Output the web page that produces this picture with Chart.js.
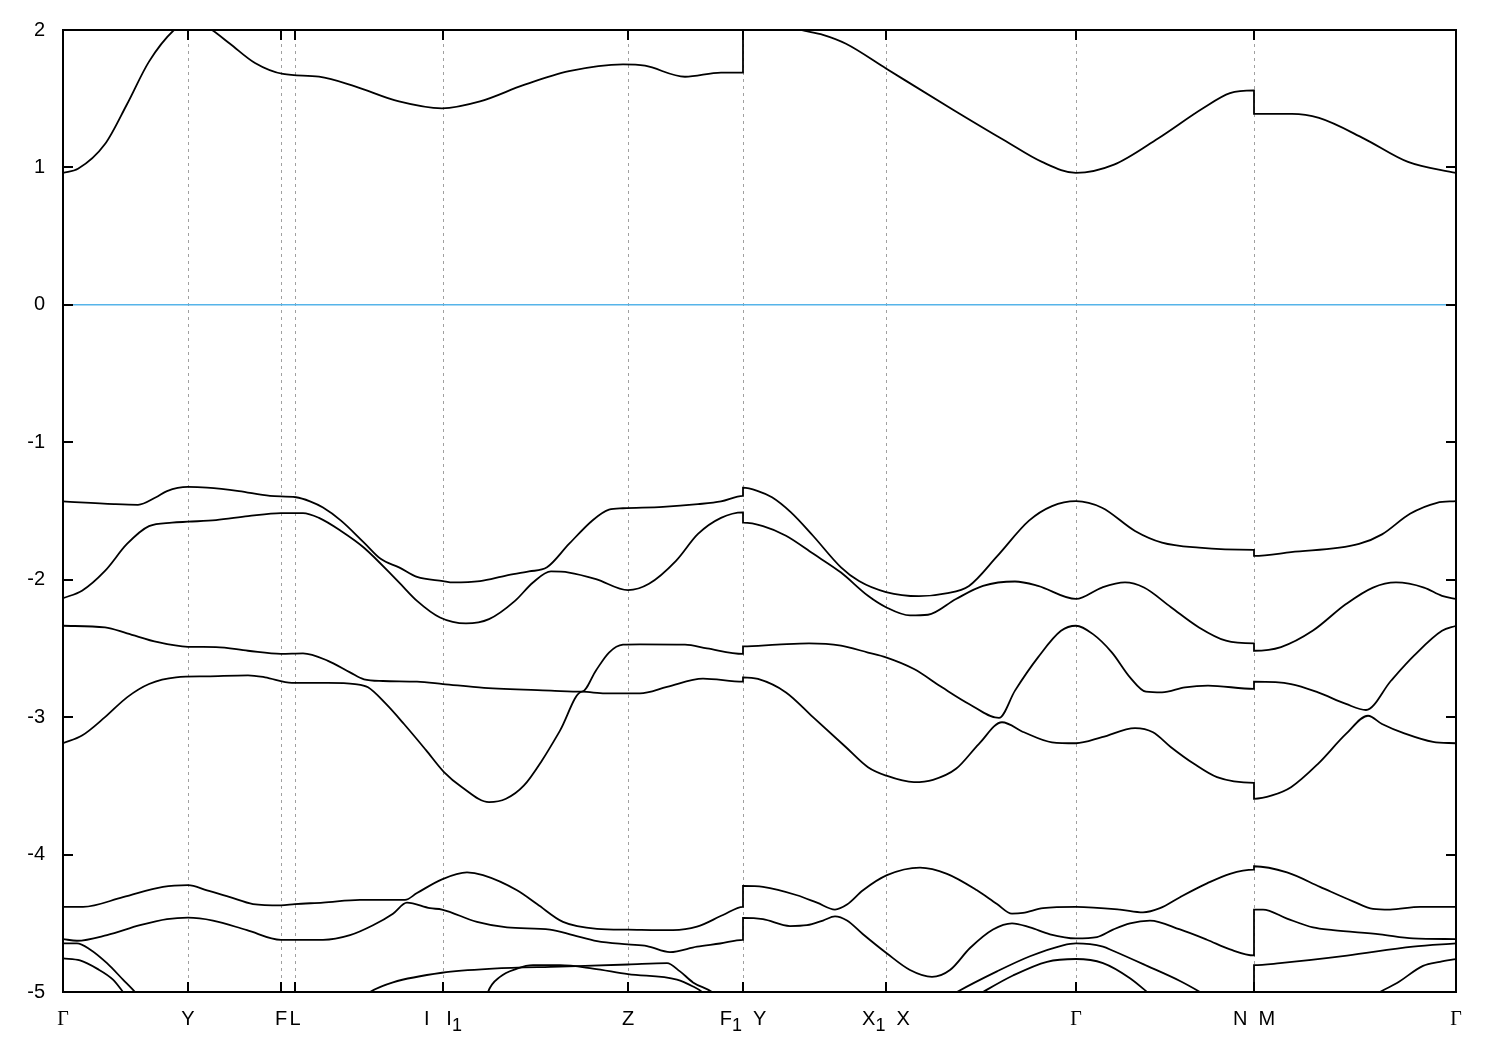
<!DOCTYPE html>
<html>
<head>
<meta charset="utf-8">
<title>Band structure</title>
<script src="https://cdn.jsdelivr.net/npm/chart.js@4.4.1/dist/chart.umd.min.js"></script>
<style>
    body { margin: 0; background: #fff; }
    #wrap { width: 1500px; height: 1050px; }
</style>
</head>
<body>
<div id="wrap"><canvas id="bandChart" width="1500" height="1050"></canvas></div>
<script>
// high-symmetry points along the k-path ("_1" = subscript 1)
const kTicks = [0, 1.25, 2.18, 2.32, 3.80, 5.65, 6.80, 8.23, 10.13, 11.91, 13.93];
const kLabels = ['Γ', 'Y', 'F', 'L', 'I   I_1', 'Z', 'F_1  Y', 'X_1  X', 'Γ', 'N  M', 'Γ'];
const energyTicks = [-5, -4, -3, -2, -1, 0, 1, 2];
const fermiLevel = [[0, 0], [13.93, 0]];

// bands as [k, E] pairs
const band1 = [[0, 0.96], [0.15, 0.99], [0.42, 1.17], [0.64, 1.46], [0.86, 1.77], [1.11, 2.0], [1.25, 2.06], [1.37, 2.05],
    [1.49, 2.0], [1.67, 1.9], [1.92, 1.76], [2.20, 1.68], [2.56, 1.66], [2.92, 1.59], [3.36, 1.48], [3.79, 1.43],
    [4.17, 1.48], [4.61, 1.60], [5.06, 1.70], [5.60, 1.75], [5.82, 1.74], [6.22, 1.66], [6.58, 1.69], [6.80, 1.69],
    [6.80, 2.12], [7.07, 2.07], [7.38, 2.0], [7.60, 1.965], [7.83, 1.90], [8.23, 1.72], [8.90, 1.42], [9.43, 1.19],
    [9.79, 1.04], [10.13, 0.96], [10.51, 1.02], [10.95, 1.21], [11.40, 1.43], [11.67, 1.54], [11.91, 1.56],
    [11.91, 1.39], [12.29, 1.39], [12.56, 1.36], [13.01, 1.21], [13.45, 1.04], [13.93, 0.96]];

const band2 = [[0, -1.43], [0.51, -1.45], [0.75, -1.455], [0.93, -1.40], [1.04, -1.355], [1.25, -1.325], [1.44, -1.33],
    [1.76, -1.355], [2.07, -1.39], [2.33, -1.40], [2.47, -1.43], [2.60, -1.475], [2.78, -1.57], [3.01, -1.73],
    [3.18, -1.85], [3.36, -1.91], [3.54, -1.98], [3.80, -2.01], [3.90, -2.02], [4.17, -2.01], [4.43, -1.97],
    [4.66, -1.94], [4.84, -1.91], [5.06, -1.74], [5.30, -1.565], [5.46, -1.49], [5.60, -1.48], [6.00, -1.47],
    [6.35, -1.45], [6.58, -1.43], [6.80, -1.39],
    [6.80, -1.33], [6.95, -1.355], [7.09, -1.40], [7.28, -1.51], [7.50, -1.68], [7.78, -1.91], [7.96, -2.01],
    [8.23, -2.09], [8.56, -2.12], [8.83, -2.10], [9.06, -2.045], [9.34, -1.83], [9.66, -1.57], [9.89, -1.464],
    [10.13, -1.428], [10.39, -1.476], [10.72, -1.645], [10.99, -1.73], [11.36, -1.767], [11.91, -1.783],
    [11.91, -1.827], [12.28, -1.80], [12.96, -1.74], [13.19, -1.67], [13.47, -1.52], [13.74, -1.44], [13.93, -1.428]];

const band3 = [[0, -2.134], [0.19, -2.08], [0.42, -1.936], [0.64, -1.74], [0.86, -1.61], [1.09, -1.585], [1.25, -1.578],
    [1.53, -1.566], [1.85, -1.537], [2.18, -1.515], [2.40, -1.515], [2.56, -1.55], [2.78, -1.645], [3.01, -1.767],
    [3.36, -2.02], [3.54, -2.154], [3.77, -2.275], [4.03, -2.318], [4.26, -2.287], [4.52, -2.154], [4.70, -2.02],
    [4.88, -1.94], [5.06, -1.948], [5.33, -1.996], [5.65, -2.076], [5.86, -2.03], [6.13, -1.863], [6.35, -1.667],
    [6.58, -1.55], [6.80, -1.51],
    [6.80, -1.585], [7.00, -1.61], [7.23, -1.68], [7.50, -1.81], [7.78, -1.948], [8.05, -2.117], [8.23, -2.20],
    [8.47, -2.26], [8.65, -2.255], [8.93, -2.14], [9.20, -2.045], [9.52, -2.013], [9.75, -2.045], [10.13, -2.14],
    [10.39, -2.057], [10.62, -2.02], [10.81, -2.057], [11.08, -2.20], [11.36, -2.347], [11.63, -2.444], [11.91, -2.463],
    [11.91, -2.517], [12.18, -2.49], [12.50, -2.37], [12.83, -2.177], [13.10, -2.057], [13.33, -2.02], [13.61, -2.057],
    [13.79, -2.117], [13.93, -2.14]];

const band4 = [[0, -2.335], [0.42, -2.347], [0.64, -2.39], [0.95, -2.455], [1.25, -2.488], [1.53, -2.49], [1.85, -2.517],
    [2.18, -2.54], [2.40, -2.536], [2.65, -2.59], [2.87, -2.674], [3.01, -2.725], [3.20, -2.737], [3.54, -2.742],
    [3.80, -2.759], [4.21, -2.787], [4.88, -2.807], [5.19, -2.815], [5.33, -2.66], [5.46, -2.53], [5.60, -2.473],
    [5.77, -2.47], [6.22, -2.473], [6.44, -2.50], [6.80, -2.54],
    [6.80, -2.485], [7.14, -2.473], [7.46, -2.463], [7.78, -2.48], [8.05, -2.53], [8.23, -2.565], [8.51, -2.65],
    [8.79, -2.783], [9.06, -2.904], [9.36, -3.006], [9.52, -2.807], [9.75, -2.565], [9.98, -2.372], [10.13, -2.335],
    [10.30, -2.396], [10.49, -2.53], [10.67, -2.71], [10.83, -2.815], [10.99, -2.82], [11.22, -2.783], [11.45, -2.77],
    [11.91, -2.795],
    [11.91, -2.742], [12.28, -2.759], [12.55, -2.82], [12.83, -2.904], [13.03, -2.948], [13.28, -2.735], [13.51, -2.553],
    [13.79, -2.372], [13.93, -2.335]];

const band5 = [[0, -3.19], [0.19, -3.134], [0.42, -3.0], [0.64, -2.856], [0.86, -2.759], [1.13, -2.71], [1.44, -2.703],
    [1.85, -2.696], [2.02, -2.71], [2.29, -2.75], [2.65, -2.75], [2.92, -2.759], [3.05, -2.783], [3.23, -2.904],
    [3.41, -3.05], [3.63, -3.24], [3.81, -3.40], [3.99, -3.51], [4.26, -3.618], [4.43, -3.594], [4.61, -3.497],
    [4.79, -3.315], [4.97, -3.098], [5.19, -2.815], [5.42, -2.827], [5.77, -2.827], [6.04, -2.78], [6.40, -2.72],
    [6.80, -2.742],
    [6.80, -2.71], [6.95, -2.722], [7.23, -2.82], [7.50, -3.0], [7.83, -3.219], [8.05, -3.364], [8.23, -3.425],
    [8.51, -3.473], [8.70, -3.456], [8.93, -3.376], [9.16, -3.194], [9.39, -3.037], [9.61, -3.11], [9.89, -3.183],
    [10.13, -3.19], [10.39, -3.146], [10.72, -3.08], [10.90, -3.11], [11.08, -3.219], [11.31, -3.34], [11.54, -3.437],
    [11.91, -3.478],
    [11.91, -3.594], [12.09, -3.57], [12.28, -3.51], [12.55, -3.34], [12.83, -3.122], [13.05, -2.99], [13.19, -3.05],
    [13.42, -3.12], [13.70, -3.18], [13.93, -3.19]];

const band6 = [[0, -4.38], [0.20, -4.38], [0.60, -4.31], [1.00, -4.235], [1.25, -4.223], [1.44, -4.26], [1.67, -4.31],
    [1.90, -4.36], [2.18, -4.37], [2.32, -4.36], [2.60, -4.35], [2.97, -4.33], [3.24, -4.33], [3.42, -4.33],
    [3.54, -4.28], [3.79, -4.18], [4.04, -4.13], [4.20, -4.15], [4.54, -4.26], [4.74, -4.36], [5.00, -4.49],
    [5.34, -4.54], [5.65, -4.546], [6.10, -4.55], [6.34, -4.525], [6.60, -4.44], [6.80, -4.38],
    [6.80, -4.228], [7.00, -4.235], [7.34, -4.296], [7.54, -4.35], [7.72, -4.40], [7.84, -4.364], [8.00, -4.26],
    [8.24, -4.15], [8.57, -4.095], [8.84, -4.14], [9.14, -4.26], [9.34, -4.36], [9.49, -4.43], [9.60, -4.425],
    [9.80, -4.39], [10.13, -4.38], [10.57, -4.40], [10.80, -4.42], [10.97, -4.39], [11.17, -4.31], [11.44, -4.21],
    [11.67, -4.14], [11.91, -4.11],
    [11.91, -4.085], [12.24, -4.13], [12.57, -4.235], [12.90, -4.34], [13.10, -4.395], [13.27, -4.40], [13.57, -4.38],
    [13.93, -4.38]];

const band7 = [[0, -4.615], [0.14, -4.627], [0.44, -4.586], [0.77, -4.514], [1.04, -4.47], [1.25, -4.459], [1.50, -4.48],
    [1.84, -4.55], [2.18, -4.62], [2.60, -4.62], [2.87, -4.586], [3.10, -4.514], [3.30, -4.43], [3.44, -4.35],
    [3.67, -4.39], [3.79, -4.40], [4.14, -4.49], [4.44, -4.53], [4.87, -4.546], [5.10, -4.586], [5.34, -4.63],
    [5.65, -4.654], [5.84, -4.666], [6.07, -4.71], [6.34, -4.67], [6.57, -4.647], [6.80, -4.62],
    [6.80, -4.46], [7.00, -4.47], [7.27, -4.52], [7.44, -4.514], [7.60, -4.48], [7.72, -4.45], [7.84, -4.48],
    [8.00, -4.58], [8.24, -4.72], [8.47, -4.84], [8.69, -4.89], [8.87, -4.84], [9.07, -4.68], [9.30, -4.545],
    [9.49, -4.50], [9.67, -4.53], [9.87, -4.58], [10.13, -4.61], [10.34, -4.60], [10.50, -4.546], [10.67, -4.50],
    [10.87, -4.48], [11.17, -4.545], [11.44, -4.62], [11.67, -4.69], [11.91, -4.734],
    [11.91, -4.40], [12.00, -4.40], [12.24, -4.466], [12.50, -4.53], [12.70, -4.55], [13.17, -4.58], [13.50, -4.61],
    [13.93, -4.615]];

const band8 = [[0, -4.646], [0.14, -4.646], [0.27, -4.69], [0.44, -4.79], [0.60, -4.91], [0.72, -5.0], [0.90, -5.15]];
const band9 = [[0, -4.755], [0.17, -4.77], [0.34, -4.83], [0.50, -4.91], [0.60, -5.0], [0.80, -5.2]];

const band10 = [[2.85, -5.12], [3.07, -5.0], [3.30, -4.93], [3.79, -4.86], [4.30, -4.83], [4.97, -4.815], [5.65, -4.80],
    [6.04, -4.79], [6.17, -4.85], [6.30, -4.93], [6.49, -5.0], [6.62, -5.08]];
const band11 = [[4.18, -5.2], [4.25, -5.0], [4.37, -4.89], [4.54, -4.83], [4.70, -4.805], [4.97, -4.805], [5.30, -4.83],
    [5.65, -4.87], [6.14, -4.91], [6.30, -4.96], [6.39, -5.0], [6.46, -5.06]];
const band12 = [[8.78, -5.07], [8.94, -5.0], [9.34, -4.85], [9.67, -4.74], [10.00, -4.66], [10.13, -4.646], [10.40, -4.67],
    [10.50, -4.70], [10.84, -4.81], [11.17, -4.92], [11.37, -5.0], [11.55, -5.08]];
const band13 = [[9.04, -5.07], [9.20, -5.0], [9.50, -4.88], [9.84, -4.78], [10.13, -4.76], [10.40, -4.79], [10.67, -4.9],
    [10.84, -5.0], [11.00, -5.1]];
const band14 = [[11.91, -5.3], [11.91, -4.805], [12.17, -4.79], [12.84, -4.735], [13.50, -4.67], [13.93, -4.646]];
const band15 = [[13.00, -5.09], [13.17, -5.0], [13.34, -4.935], [13.60, -4.81], [13.77, -4.78], [13.93, -4.76]];

const allBands = [band1, band2, band3, band4, band5, band6, band7, band8,
    band9, band10, band11, band12, band13, band14, band15];

const SANS = "'Liberation Sans', Arial, sans-serif";
const SERIF = "'Liberation Serif', 'Times New Roman', serif";
const FONT_SIZE = 20;

// split "F_1  Y" into pieces, subscripts flagged
function labelParts(label) {
    return label.split(/(_\d)/).filter(s => s !== '').map(s =>
        s[0] === '_' ? {text: s.slice(1), sub: true} : {text: s, sub: false});
}

function partFont(label, part) {
    const family = label === 'Γ' ? SERIF : SANS;
    return (part.sub ? FONT_SIZE - 2 : FONT_SIZE) + 'px ' + family;
}

// dashed k-point lines under the bands, frame, inward ticks and k labels on top
const framePlugin = {
    id: 'frame',
    beforeDatasetsDraw(chart) {
        const {ctx, chartArea: a, scales: {x}} = chart;
        ctx.save();
        ctx.strokeStyle = '#a0a0a0';
        ctx.lineWidth = 1;
        ctx.setLineDash([3, 4]);
        kTicks.forEach(k => {
            const px = Math.round(x.getPixelForValue(k)) + 0.5;
            ctx.beginPath();
            ctx.moveTo(px, a.top);
            ctx.lineTo(px, a.bottom);
            ctx.stroke();
        });
        ctx.restore();
    },
    afterDatasetsDraw(chart) {
        const {ctx, chartArea: a, scales: {x, y}} = chart;
        ctx.save();
        ctx.strokeStyle = '#000';
        ctx.lineWidth = 2;
        ctx.setLineDash([]);
        ctx.strokeRect(a.left, a.top, a.right - a.left, a.bottom - a.top);
        ctx.beginPath();
        kTicks.forEach(k => {
            const px = Math.round(x.getPixelForValue(k));
            ctx.moveTo(px, a.bottom);
            ctx.lineTo(px, a.bottom - 10);
            ctx.moveTo(px, a.top);
            ctx.lineTo(px, a.top + 10);
        });
        energyTicks.forEach(e => {
            const py = Math.round(y.getPixelForValue(e));
            ctx.moveTo(a.left, py);
            ctx.lineTo(a.left + 10, py);
            ctx.moveTo(a.right, py);
            ctx.lineTo(a.right - 10, py);
        });
        ctx.stroke();

        // k-point labels with real subscripts
        ctx.fillStyle = '#000';
        ctx.textAlign = 'left';
        ctx.textBaseline = 'alphabetic';
        const baseY = a.bottom + 33;
        kTicks.forEach((k, i) => {
            const label = kLabels[i];
            const parts = labelParts(label);
            let total = 0;
            parts.forEach(p => {
                ctx.font = partFont(label, p);
                p.w = ctx.measureText(p.text).width;
                total += p.w;
            });
            let cx = x.getPixelForValue(k) - total / 2;
            parts.forEach(p => {
                ctx.font = partFont(label, p);
                ctx.fillText(p.text, cx, p.sub ? baseY + 6 : baseY);
                cx += p.w;
            });
        });
        ctx.restore();
    }
};

const datasets = allBands.map(b => ({
    data: b.map(p => ({x: p[0], y: p[1]})),
    borderColor: '#000',
    borderWidth: 1.8,
    pointRadius: 0,
    fill: false,
    cubicInterpolationMode: 'monotone'
}));
datasets.push({
    data: fermiLevel.map(p => ({x: p[0], y: p[1]})),
    borderColor: '#56b4e9',
    borderWidth: 1.5,
    pointRadius: 0,
    fill: false
});

new Chart(document.getElementById('bandChart'), {
    type: 'line',
    data: {datasets: datasets},
    plugins: [framePlugin],
    options: {
        responsive: false,
        animation: false,
        layout: {padding: {left: 0, right: 44, top: 28, bottom: 0}},
        plugins: {legend: {display: false}, tooltip: {enabled: false}},
        scales: {
            x: {
                type: 'linear',
                min: 0,
                max: 13.93,
                afterBuildTicks: s => { s.ticks = kTicks.map(v => ({value: v})); },
                afterFit: s => { s.height = 58; },
                grid: {display: false, drawTicks: false},
                border: {display: false},
                ticks: {display: false}
            },
            y: {
                min: -5,
                max: 2,
                afterBuildTicks: s => { s.ticks = energyTicks.map(v => ({value: v})); },
                afterFit: s => { s.width = 63; },
                grid: {display: false, drawTicks: false},
                border: {display: false},
                ticks: {
                    padding: 18,
                    color: '#000',
                    font: {family: SANS, size: FONT_SIZE},
                    callback: v => String(v)
                }
            }
        }
    }
});
</script>
</body>
</html>
